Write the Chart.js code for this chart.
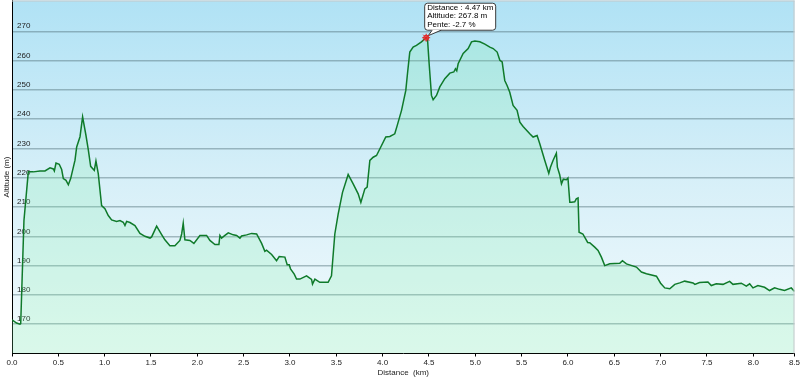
<!DOCTYPE html>
<html>
<head>
<meta charset="utf-8">
<script src="https://cdn.jsdelivr.net/npm/chart.js@4.4.1/dist/chart.umd.min.js"></script>
<style>
  html, body { margin: 0; padding: 0; background: #fff; }
</style>
</head>
<body>
<canvas id="profile-chart" width="800" height="379"></canvas>
<script>
// Profile: distance (km) and altitude (m)
const distanceKm = [
  0.0, 0.05, 0.086, 0.094, 0.129, 0.176, 0.23, 0.302, 0.356, 0.41, 0.446, 0.457, 0.475, 0.51, 0.536,
  0.554, 0.583, 0.608, 0.633, 0.68, 0.698, 0.734, 0.762, 0.798, 0.824, 0.849, 0.888, 0.906, 0.931,
  0.967, 1.003, 1.039, 1.075, 1.129, 1.165, 1.201, 1.219, 1.237, 1.273, 1.327, 1.381, 1.435, 1.489,
  1.507, 1.561, 1.615, 1.65, 1.704, 1.758, 1.812, 1.831, 1.848, 1.866, 1.92, 1.963, 2.028, 2.1,
  2.136, 2.19, 2.233, 2.244, 2.262, 2.298, 2.334, 2.388, 2.424, 2.46, 2.478, 2.532, 2.586, 2.64,
  2.694, 2.729, 2.747, 2.802, 2.855, 2.884, 2.945, 2.97, 2.992, 3.006, 3.046, 3.071, 3.107, 3.179,
  3.233, 3.243, 3.269, 3.322, 3.412, 3.448, 3.484, 3.52, 3.567, 3.628, 3.682, 3.736, 3.765, 3.808,
  3.833, 3.862, 3.898, 3.934, 3.988, 4.034, 4.078, 4.131, 4.157, 4.204, 4.25, 4.268, 4.293, 4.329,
  4.365, 4.419, 4.47, 4.484, 4.502, 4.527, 4.545, 4.581, 4.617, 4.671, 4.725, 4.768, 4.786, 4.8,
  4.815, 4.869, 4.923, 4.959, 4.995, 5.049, 5.103, 5.157, 5.193, 5.236, 5.265, 5.29, 5.318, 5.343,
  5.372, 5.408, 5.451, 5.481, 5.516, 5.588, 5.624, 5.667, 5.696, 5.75, 5.793, 5.811, 5.839, 5.875,
  5.886, 5.911, 5.93, 5.95, 5.983, 6.0, 6.02, 6.04, 6.073, 6.09, 6.109, 6.12, 6.161, 6.213, 6.235,
  6.289, 6.325, 6.361, 6.397, 6.451, 6.559, 6.588, 6.631, 6.739, 6.793, 6.847, 6.955, 7.0, 7.045,
  7.099, 7.153, 7.206, 7.26, 7.35, 7.37, 7.42, 7.511, 7.547, 7.601, 7.673, 7.745, 7.781, 7.871,
  7.925, 7.961, 7.997, 8.05, 8.122, 8.176, 8.23, 8.284, 8.338, 8.41, 8.446
];
const altitudeM = [
  171.5, 170.4, 170.0, 170.2, 205.4, 222.0, 222.0, 222.3, 222.3, 223.4, 223.0, 222.3, 225.0, 224.6, 222.8,
  219.7, 219.1, 217.6, 219.7, 226.0, 230.5, 234.0, 240.8, 234.5, 229.4, 223.9, 222.5, 225.7, 221.4,
  210.5, 209.4, 207.1, 205.6, 205.1, 205.4, 204.8, 203.7, 205.1, 204.7, 203.7, 201.0, 200.0, 199.4,
  199.8, 203.5, 200.6, 198.8, 196.8, 196.8, 198.6, 200.8, 204.5, 198.8, 198.6, 197.6, 200.3, 200.3,
  198.6, 197.2, 197.2, 200.3, 199.4, 200.3, 201.2, 200.5, 200.3, 199.4, 200.1, 200.5, 201.0, 200.8,
  197.6, 194.9, 195.3, 193.8, 191.7, 193.1, 192.9, 190.3, 190.3, 188.9, 187.1, 185.4, 185.4, 186.5,
  185.3, 183.7, 185.4, 184.3, 184.3, 186.5, 200.8, 207.6, 215.0, 221.1, 217.9, 214.5, 211.6, 216.2,
  216.8, 225.9, 227.0, 227.6, 231.0, 233.9, 234.1, 235.0, 237.8, 243.0, 249.8, 255.5, 262.9, 264.6,
  265.2, 266.4, 267.8, 267.5, 258.9, 248.1, 246.6, 248.1, 251.0, 253.8, 255.7, 256.1, 257.2, 256.5,
  258.9, 262.4, 264.1, 266.4, 266.7, 266.4, 265.6, 264.6, 264.1, 262.9, 260.1, 259.5, 253.2, 251.5,
  249.2, 244.7, 243.0, 239.0, 237.5, 235.0, 233.9, 234.4, 231.6, 225.9, 221.5, 223.6, 225.9, 228.4,
  223.6, 221.0, 217.9, 219.5, 219.3, 219.9, 211.6, 211.6, 211.8, 212.8, 213.1, 201.4, 200.8, 197.9, 197.8,
  196.3, 195.2, 192.9, 190.0, 190.6, 190.8, 191.7, 190.6, 189.5, 187.8, 187.2, 186.4, 184.0, 182.4,
  182.1, 183.6, 184.1, 184.7, 184.1, 183.6, 184.2, 184.4, 183.2, 183.8, 183.6, 184.6, 183.6, 184.0,
  183.0, 183.8, 182.4, 183.2, 182.6, 181.5, 182.4, 181.9, 181.5, 182.4, 181.2
];

// Axis ticks
const yTickValues = [170, 180, 190, 200, 210, 220, 230, 240, 250, 260, 270];
const xTickValues = [0, 0.5, 1, 1.5, 2, 2.5, 3, 3.5, 4, 4.5, 5, 5.5, 6, 6.5, 7, 7.5, 8, 8.5];
const xTickLabels = xTickValues.map(v => v.toFixed(1));

// Highlighted point and its info box
const tipDistance = 4.47;
const tipAltitude = 267.8;
const tipSlope = -2.7;
const tipLines = [
  'Distance : ' + tipDistance.toFixed(2) + ' km',
  'Altitude: ' + tipAltitude.toFixed(1) + ' m',
  'Pente: ' + tipSlope.toFixed(1) + ' %'
];

const FONT = "'Liberation Sans', Arial, sans-serif";
const tickFont = { family: FONT, size: 8 };

// background gradient + frame of the plot area
const plotFrame = {
  id: 'plotFrame',
  beforeDatasetsDraw(chart) {
    const { ctx, chartArea: a } = chart;
    const g = ctx.createLinearGradient(0, a.top, 0, a.bottom);
    g.addColorStop(0, '#b0e2f5');
    g.addColorStop(0.5, '#d6eff8');
    g.addColorStop(1, '#f3fbfd');
    ctx.save();
    ctx.globalCompositeOperation = 'destination-over';
    ctx.fillStyle = g;
    ctx.fillRect(a.left, a.top, a.right - a.left, a.bottom - a.top);
    ctx.restore();
  },
  afterDraw(chart) {
    const { ctx, chartArea: a } = chart;
    ctx.save();
    ctx.strokeStyle = '#c4c8ca';
    ctx.lineWidth = 1;
    ctx.beginPath();
    ctx.moveTo(a.left, a.top + 0.5);
    ctx.lineTo(a.right, a.top + 0.5);
    ctx.moveTo(a.right - 0.5, a.top);
    ctx.lineTo(a.right - 0.5, a.bottom);
    ctx.stroke();
    ctx.restore();
  }
};

// info box pointing at the highlighted point
const infoBox = {
  id: 'infoBox',
  afterDraw(chart) {
    const { ctx, scales } = chart;
    const px = scales.x.getPixelForValue(tipDistance);
    const py = scales.y.getPixelForValue(tipAltitude);
    const left = px - 2, top = py - 35, w = 71, h = 27;
    ctx.save();
    ctx.fillStyle = '#fff';
    ctx.strokeStyle = '#3a3a3a';
    ctx.lineWidth = 1;
    ctx.beginPath();
    ctx.roundRect(left + 0.5, top + 0.5, w, h, 3);
    ctx.fill();
    ctx.stroke();
    // pointer
    ctx.beginPath();
    ctx.moveTo(px + 6, top + h);
    ctx.lineTo(px + 2, py - 2);
    ctx.lineTo(px + 15, top + h);
    ctx.closePath();
    ctx.fill();
    ctx.beginPath();
    ctx.moveTo(px + 6, top + h + 0.5);
    ctx.lineTo(px + 2, py - 2);
    ctx.lineTo(px + 15, top + h + 0.5);
    ctx.stroke();
    ctx.fillStyle = '#000';
    ctx.font = '8px ' + FONT;
    ctx.textBaseline = 'middle';
    tipLines.forEach((t, i) => ctx.fillText(t, left + 3, top + 5 + i * 8.3));
    // marker
    ctx.strokeStyle = '#e02222';
    ctx.fillStyle = 'rgba(255,110,110,0.6)';
    ctx.beginPath();
    ctx.arc(px, py, 2.5, 0, Math.PI * 2);
    ctx.fill();
    ctx.stroke();
    ctx.beginPath();
    ctx.moveTo(px - 4, py); ctx.lineTo(px + 4, py);
    ctx.moveTo(px, py - 4); ctx.lineTo(px, py + 4);
    ctx.moveTo(px - 3, py - 3); ctx.lineTo(px + 3, py + 3);
    ctx.moveTo(px - 3, py + 3); ctx.lineTo(px + 3, py - 3);
    ctx.stroke();
    ctx.restore();
  }
};

const chart = new Chart(document.getElementById('profile-chart'), {
  type: 'line',
  data: {
    datasets: [{
      label: 'Altitude',
      data: distanceKm.map((d, i) => ({ x: d, y: altitudeM[i] })),
      borderColor: '#0f7a2a',
      borderWidth: 1.5,
      pointRadius: 0,
      tension: 0,
      fill: 'start',
      backgroundColor: 'rgba(120,240,160,0.2)'
    }]
  },
  options: {
    responsive: false,
    animation: false,
    layout: { padding: { left: 0, right: 5.5, top: 0.5, bottom: 0 } },
    plugins: {
      legend: { display: false },
      tooltip: { enabled: false }
    },
    scales: {
      x: {
        type: 'linear',
        min: 0,
        max: 8.445,
        afterBuildTicks: s => { s.ticks = xTickValues.map(v => ({ value: Math.min(v, s.max) })); },
        afterFit: s => { s.height = 25.5; s.paddingLeft = 0; s.paddingRight = 0; },
        ticks: {
          autoSkip: false,
          maxRotation: 0,
          padding: 1,
          color: '#222',
          font: tickFont,
          callback: (v, i) => xTickLabels[i]
        },
        grid: { drawOnChartArea: false, drawTicks: true, tickLength: 3, tickColor: '#000' },
        border: { color: '#000', width: 1 },
        title: {
          display: true,
          text: 'Distance  (km)',
          color: '#222',
          font: tickFont,
          padding: { top: 0, bottom: 1 }
        }
      },
      y: {
        type: 'linear',
        min: 160,
        max: 280.5,
        afterBuildTicks: s => { s.ticks = yTickValues.map(v => ({ value: v })); },
        afterFit: s => { s.width = 12; s.paddingTop = 0; s.paddingBottom = 0; },
        ticks: {
          mirror: true,
          padding: 5,
          labelOffset: -5,
          color: '#222',
          font: tickFont
        },
        grid: { color: 'rgba(80,110,120,0.45)', lineWidth: 1.5, drawTicks: false },
        border: { color: '#000', width: 1 },
        title: {
          display: true,
          text: 'Altitude (m)',
          color: '#222',
          font: tickFont,
          padding: { top: 1.5, bottom: 0 }
        }
      }
    }
  },
  plugins: [plotFrame, infoBox]
});
</script>
</body>
</html>
